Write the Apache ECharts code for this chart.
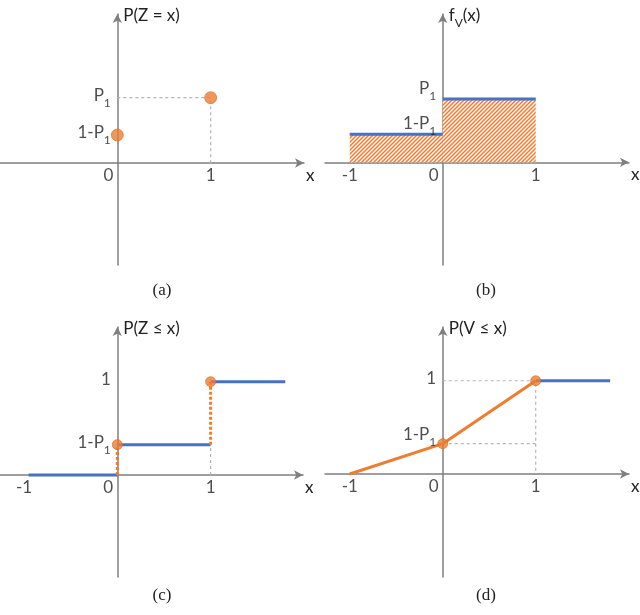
<!DOCTYPE html>
<html>
<head>
<meta charset="utf-8">
<script src="https://cdn.jsdelivr.net/npm/echarts@6/dist/echarts.min.js"></script>
<style>
  html, body { margin: 0; padding: 0; background: #fff; }
  #chart { width: 640px; height: 615px; }
</style>
</head>
<body>
<div id="chart"></div>
<script>
// (a) mass function of Z
const massX = [0, 1];
const massY = [0.3, 0.7];
// (b) density of V: edges and heights
const densEdges = [-1, 0, 1];
const densY = [0.3, 0.68];
// (c) cdf of Z (steps)
const zStepX = [-0.95, 0, 1, 1.8];
const zStepY = [0, 0.325, 1];
// (d) cdf of V
const vCdfX = [-1, 0, 1];
const vCdfY = [0, 0.325, 1];
const vTailX = [1, 1.8];

// tick labels
const xTicksA = [0, 1];
const xTicksB = [-1, 0, 1];
const yTicksA = [0.3, 0.7];
const yLabelsA = ['1-P_1', 'P_1'];
const yTicksB = [0.3, 0.68];
const yLabelsB = ['1-P_1', 'P_1'];
const yTicksC = [0.325, 1];
const yLabelsC = ['1-P_1', '1'];
const yLabelsD = ['1-P_1', '1'];

const axisNames = ['P(Z = x)', 'f_V(x)', 'P(Z ≤ x)', 'P(V ≤ x)'];
const captions = ['(a)', '(b)', '(c)', '(d)'];

const BLUE = '#4472c4';
const ORANGE = '#ed7d31';
const AXIS = '#7f7f7f';
const GUIDE = '#b4b4b4';
const FONT = 'Lato, "Open Sans", sans-serif';

// 1-P_1 -> rich text with subscript
function rich(s) {
  const m = s.match(/^([^_]*)_(\w)(.*)$/);
  if (!m) return '{t|' + s + '}';
  return '{t|' + m[1] + '}{s|' + m[2] + '}' + (m[3] ? '{t|' + m[3] + '}' : '');
}
const richStyle = {
  t: { fontSize: 17, fontFamily: FONT, color: '#222', padding: [0, 0, 5, 0], verticalAlign: 'bottom' },
  s: { fontSize: 12, fontFamily: FONT, color: '#222', verticalAlign: 'bottom' },
};

function hatch() {
  const c = document.createElement('canvas');
  c.width = 4; c.height = 4;
  const g = c.getContext('2d');
  g.fillStyle = '#fff';
  g.fillRect(0, 0, 4, 4);
  g.strokeStyle = ORANGE;
  g.lineWidth = 1.5;
  g.beginPath();
  g.moveTo(0, 4); g.lineTo(4, 0);
  g.moveTo(-1, 1); g.lineTo(1, -1);
  g.moveTo(3, 5); g.lineTo(5, 3);
  g.stroke();
  return c;
}

const grids = [
  { left: 0, top: 14, width: 304, height: 251 },
  { left: 325, top: 14, width: 304, height: 251 },
  { left: 0, top: 327, width: 303, height: 250 },
  { left: 325, top: 327, width: 304, height: 250 },
].map(g => Object.assign(g, { containLabel: false, outerBoundsMode: 'none' }));
const ranges = [
  { x: [-1.257, 2.0], y: [-1.093, 1.597] },
  { x: [-1.266, 2.003], y: [-1.10, 1.59] },
  { x: [-1.257, 1.99], y: [-1.093, 1.586] },
  { x: [-1.266, 2.003], y: [-1.104, 1.576] },
];
const xTicks = [xTicksA, xTicksB, xTicksB, xTicksB];
const yTicks = [yTicksA, yTicksB, yTicksC, yTicksC];
const yLabels = [yLabelsA, yLabelsB, yLabelsC, yLabelsD];
// per-panel vertical shift of y tick labels (label k)
const yLabelShift = [[0, 0], [-8, -8], [0, 0], [-7, 0]];

const axisLine = { onZero: true, lineStyle: { color: AXIS, width: 1.5 }, symbol: ['none', 'arrow'], symbolSize: [7, 9] };

const xAxis = grids.map((g, i) => ({
  type: 'value', gridIndex: i, min: ranges[i].x[0], max: ranges[i].x[1],
  axisLine: axisLine, axisTick: { show: false }, splitLine: { show: false }, axisLabel: { show: false },
  name: 'x', nameLocation: 'end', nameGap: 0,
  nameTextStyle: { fontSize: 17, fontFamily: FONT, color: '#222', align: 'left', verticalAlign: 'top', padding: [4, 0, 0, 2] },
}));

const yAxis = grids.map((g, i) => ({
  type: 'value', gridIndex: i, min: ranges[i].y[0], max: ranges[i].y[1],
  axisLine: axisLine, axisTick: { show: false }, splitLine: { show: false }, axisLabel: { show: false },
  name: rich(axisNames[i]), nameLocation: 'end', nameGap: -4,
  nameTextStyle: { align: 'left', verticalAlign: 'middle', padding: [0, 0, 0, 6], rich: richStyle },
}));

function seg(i, data, color, width, type) {
  return {
    type: 'line', xAxisIndex: i, yAxisIndex: i, data: data, symbol: 'none', silent: true,
    lineStyle: { color: color, width: width, type: type || 'solid' }, z: 3,
  };
}
function dots(i, data, size) {
  return {
    type: 'scatter', xAxisIndex: i, yAxisIndex: i, data: data, symbolSize: size, silent: true,
    itemStyle: { color: ORANGE, borderColor: '#d46a22', borderWidth: 0.8 }, z: 5,
  };
}
// tick labels placed on the axis lines through the panel's scales
function tickLabels(i) {
  const xs = xTicks[i].map(v => ({
    value: [v, 0],
    label: { position: 'bottom', distance: 4, offset: [v === 0 ? -9 : 0, 0], formatter: rich(String(v)) },
  }));
  const ys = yTicks[i].map((v, k) => ({
    value: [0, v],
    label: { position: 'left', distance: 6, offset: [0, yLabelShift[i][k]], formatter: rich(yLabels[i][k]) },
  }));
  return {
    type: 'scatter', xAxisIndex: i, yAxisIndex: i, data: xs.concat(ys), symbolSize: 1, silent: true,
    itemStyle: { color: 'rgba(0,0,0,0)' }, z: 6,
    label: { show: true, color: '#222', rich: richStyle },
  };
}

const pattern = hatch();
const series = [];
// (a)
series.push(seg(0, [[0, massY[1]], [massX[1], massY[1]], [massX[1], 0]], GUIDE, 1.2, [3, 3]));
series.push(dots(0, massX.map((x, k) => [x, massY[k]]), 12));
// (b)
for (let k = 0; k < densY.length; k++) {
  const s = seg(1, [[densEdges[k], densY[k]], [densEdges[k + 1], densY[k]]], BLUE, 3);
  s.areaStyle = { color: { image: pattern, repeat: 'repeat' }, opacity: 1 };
  s.z = 2;
  series.push(s);
}
// (c)
series.push(seg(2, [[zStepX[2], 0], [zStepX[2], zStepY[1]]], GUIDE, 1.2, [3, 3]));
for (let k = 0; k < zStepY.length; k++) {
  series.push(seg(2, [[zStepX[k], zStepY[k]], [zStepX[k + 1], zStepY[k]]], BLUE, 3));
}
series.push(seg(2, [[zStepX[1], zStepY[0]], [zStepX[1], zStepY[1]]], ORANGE, 3, [3, 2]));
series.push(seg(2, [[zStepX[2], zStepY[1]], [zStepX[2], zStepY[2]]], ORANGE, 3, [3, 2]));
series.push(dots(2, [[zStepX[1], zStepY[1]], [zStepX[2], zStepY[2]]], 10));
// (d)
series.push(seg(3, [[0, vCdfY[2]], [vCdfX[2], vCdfY[2]], [vCdfX[2], 0]], GUIDE, 1.2, [3, 3]));
series.push(seg(3, [[0, vCdfY[1]], [vCdfX[2], vCdfY[1]]], GUIDE, 1.2, [3, 3]));
series.push(seg(3, vTailX.map(x => [x, vCdfY[2]]), BLUE, 3));
series.push(seg(3, vCdfX.map((x, k) => [x, vCdfY[k]]), ORANGE, 3));
series.push(dots(3, [[vCdfX[1], vCdfY[1]], [vCdfX[2], vCdfY[2]]], 10));
for (let i = 0; i < 4; i++) series.push(tickLabels(i));

const capPos = [[157, 277], [481, 277], [157, 582], [481, 582]];
const title = captions.map((c, i) => ({
  text: c, left: capPos[i][0], top: capPos[i][1], textAlign: 'center',
  textStyle: { fontFamily: '"Liberation Serif", "DejaVu Serif", serif', fontWeight: 'normal', fontSize: 17, color: '#222' },
}));

const chart = echarts.init(document.getElementById('chart'), null, { renderer: 'canvas' });
chart.setOption({
  animation: false,
  backgroundColor: '#fff',
  title: title,
  grid: grids,
  xAxis: xAxis,
  yAxis: yAxis,
  series: series,
});
</script>
</body>
</html>
